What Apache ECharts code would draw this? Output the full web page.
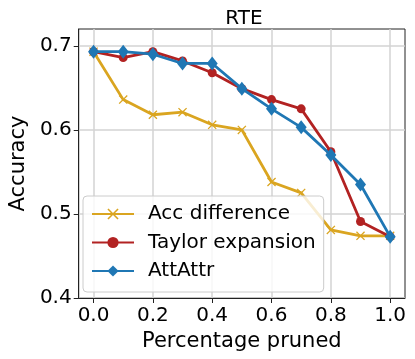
<!DOCTYPE html>
<html>
<head>
<meta charset="utf-8">
<script src="https://cdn.jsdelivr.net/npm/echarts@6/dist/echarts.min.js"></script>
<style>
  html, body { margin: 0; padding: 0; background: #fff; }
  #chart { width: 415px; height: 359px; }
</style>
</head>
<body>
<div id="chart"></div>
<script>
// fraction of heads pruned
const pruned = [0.0, 0.1, 0.2, 0.3, 0.4, 0.5, 0.6, 0.7, 0.8, 0.9, 1.0]
const accDifference = [0.693, 0.636, 0.618, 0.621, 0.606, 0.600, 0.538, 0.525, 0.481, 0.474, 0.474]
const taylorExpansion = [0.693, 0.686, 0.693, 0.682, 0.668, 0.649, 0.636, 0.625, 0.574, 0.491, 0.473]
const attAttr = [0.693, 0.693, 0.690, 0.679, 0.679, 0.649, 0.625, 0.603, 0.570, 0.535, 0.473]
const xTicks = [0.0, 0.2, 0.4, 0.6, 0.8, 1.0]
const yTicks = [0.4, 0.5, 0.6, 0.7]

const font = 'DejaVu Sans'
const crossPath = 'path://M0,1L1,0L5,4L9,0L10,1L6,5L10,9L9,10L5,6L1,10L0,9L4,5Z'

const pairs = (ys) => pruned.map((x, i) => [x, ys[i]])

const chart = echarts.init(document.getElementById('chart'))

chart.setOption({
  animation: false,
  backgroundColor: '#fff',
  title: {
    text: 'RTE',
    left: 239,
    textAlign: 'center',
    top: 4,
    textStyle: { fontFamily: font, fontSize: 20, fontWeight: 'normal', color: '#000' },
  },
  grid: {
    left: 73, right: 10, top: 29, bottom: 61,
    show: true, borderColor: '#222', borderWidth: 1, backgroundColor: 'transparent',
  },
  legend: {
    orient: 'vertical',
    left: 83,
    top: 196,
    padding: [6, 8, 9, 8],
    itemWidth: 42,
    itemHeight: 14,
    itemGap: 4.5,
    backgroundColor: 'rgba(255,255,255,0.8)',
    borderColor: '#cccccc',
    borderWidth: 1,
    borderRadius: 4,
    textStyle: { fontFamily: font, fontSize: 20, color: '#000', lineHeight: 24, padding: [0, 0, 0, 9] },
    data: ['Acc difference', 'Taylor expansion', 'AttAttr'],
  },
  xAxis: {
    type: 'value',
    min: -0.05,
    max: 1.05,
    name: 'Percentage pruned',
    nameLocation: 'middle',
    nameGap: 31,
    nameTextStyle: { fontFamily: font, fontSize: 21, color: '#000' },
    axisLine: { show: true, onZero: false, lineStyle: { color: '#222', width: 1 } },
    axisTick: { show: true, inside: false, length: 5, customValues: xTicks, lineStyle: { color: '#222' } },
    axisLabel: {
      customValues: xTicks, margin: 8,
      fontFamily: font, fontSize: 20, color: '#000',
      formatter: (v) => v.toFixed(1),
    },
    splitLine: { show: true, lineStyle: { color: '#d3d3d3', width: 1.5 } },
  },
  yAxis: {
    type: 'value',
    min: 0.4,
    max: 0.72,
    name: 'Accuracy',
    nameLocation: 'middle',
    nameGap: 46,
    nameTextStyle: { fontFamily: font, fontSize: 21, color: '#000' },
    axisLine: { show: true, onZero: false, lineStyle: { color: '#222', width: 1 } },
    axisTick: { show: true, inside: false, length: 5, customValues: yTicks, lineStyle: { color: '#222' } },
    axisLabel: {
      customValues: yTicks, margin: 7,
      fontFamily: font, fontSize: 20, color: '#000',
      formatter: (v) => v.toFixed(1),
    },
    splitLine: { show: true, lineStyle: { color: '#d3d3d3', width: 1.5 } },
  },
  series: [
    {
      name: 'Acc difference',
      type: 'line',
      data: pairs(accDifference),
      symbol: crossPath,
      symbolSize: 9,
      lineStyle: { color: '#daa520', width: 2.8 },
      itemStyle: { color: '#daa520' },
      z: 2,
    },
    {
      name: 'Taylor expansion',
      type: 'line',
      data: pairs(taylorExpansion),
      symbol: 'circle',
      symbolSize: 9,
      lineStyle: { color: '#b22222', width: 2.8 },
      itemStyle: { color: '#b22222' },
      z: 3,
    },
    {
      name: 'AttAttr',
      type: 'line',
      data: pairs(attAttr),
      symbol: 'diamond',
      symbolSize: [11, 14],
      lineStyle: { color: '#1f77b4', width: 2.8 },
      itemStyle: { color: '#1f77b4' },
      z: 4,
    },
  ],
})
</script>
</body>
</html>
